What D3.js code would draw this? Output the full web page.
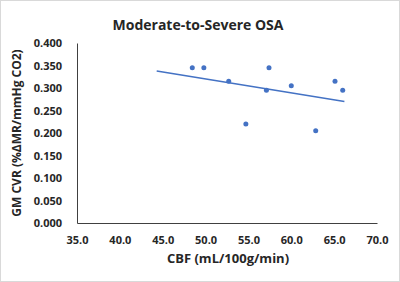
<!DOCTYPE html>
<html>
<head>
<meta charset="utf-8">
<script src="https://cdn.jsdelivr.net/npm/d3@7"></script>
<style>
  body { margin: 0; background: #fff; }
  svg { display: block; }
  text { font-family: "Open Sans", "Noto Sans", sans-serif; font-weight: bold; fill: #262626; }
  .axis path { stroke: #404040; }
</style>
</head>
<body>
<div id="chart"></div>
<script>
// data
var cbf = [48.45, 49.8, 52.7, 54.7, 57.1, 57.4, 60.0, 62.85, 65.1, 66.0];
var cvr = [0.345, 0.345, 0.315, 0.220, 0.295, 0.345, 0.305, 0.205, 0.315, 0.295];
var trendX = [44.3, 66.2];
var trendY = [0.338, 0.270];
var xTicks = [35, 40, 45, 50, 55, 60, 65, 70];
var yTicks = [0, 0.05, 0.1, 0.15, 0.2, 0.25, 0.3, 0.35, 0.4];

var W = 400, H = 282;
var margin = { top: 43, right: 23, bottom: 59, left: 77 },
    width = W - margin.left - margin.right,
    height = H - margin.top - margin.bottom;

var svg = d3.select("#chart").append("svg")
    .attr("width", W)
    .attr("height", H);

// light frame round the picture
svg.append("rect")
    .attr("x", 0.5).attr("y", 0.5)
    .attr("width", W - 1).attr("height", H - 1)
    .attr("fill", "#fff")
    .attr("stroke", "#d9d9d9");

var g = svg.append("g")
    .attr("transform", "translate(" + margin.left + "," + margin.top + ")");

var x = d3.scaleLinear().domain([35, 70]).range([0, width]);
var y = d3.scaleLinear().domain([0, 0.4]).range([height, 0]);

var xAxis = d3.axisBottom(x).tickValues(xTicks).tickSize(0).tickPadding(13)
    .tickFormat(d3.format(".1f"));
var yAxis = d3.axisLeft(y).tickValues(yTicks).tickSize(0).tickPadding(15)
    .tickFormat(d3.format(".3f"));

g.append("g")
    .attr("class", "axis")
    .attr("transform", "translate(0," + height + ")")
    .call(xAxis)
    .call(function (s) { s.selectAll("text").style("font-size", "11px"); });

g.append("g")
    .attr("class", "axis")
    .call(yAxis)
    .call(function (s) { s.selectAll("text").style("font-size", "11px"); });

g.selectAll(".domain").attr("stroke", "#404040");

// trendline
g.append("line")
    .attr("x1", x(trendX[0])).attr("y1", y(trendY[0]))
    .attr("x2", x(trendX[1])).attr("y2", y(trendY[1]))
    .attr("stroke", "#4472c4")
    .attr("stroke-width", 1.5);

// points
g.selectAll(".dot")
    .data(cbf)
    .enter().append("circle")
    .attr("class", "dot")
    .attr("r", 2.5)
    .attr("cx", function (d) { return x(d); })
    .attr("cy", function (d, i) { return y(cvr[i]); })
    .attr("fill", "#4472c4");

// titles
svg.append("text")
    .attr("x", 198).attr("y", 30)
    .attr("text-anchor", "middle")
    .style("font-size", "14px")
    .text("Moderate-to-Severe OSA");

svg.append("text")
    .attr("x", 228).attr("y", 263)
    .attr("text-anchor", "middle")
    .style("font-size", "13px")
    .text("CBF (mL/100g/min)");

svg.append("text")
    .attr("transform", "translate(21,133) rotate(-90)")
    .attr("text-anchor", "middle")
    .style("font-size", "12px")
    .text("GM CVR (%ΔMR/mmHg CO2)");
</script>
</body>
</html>
